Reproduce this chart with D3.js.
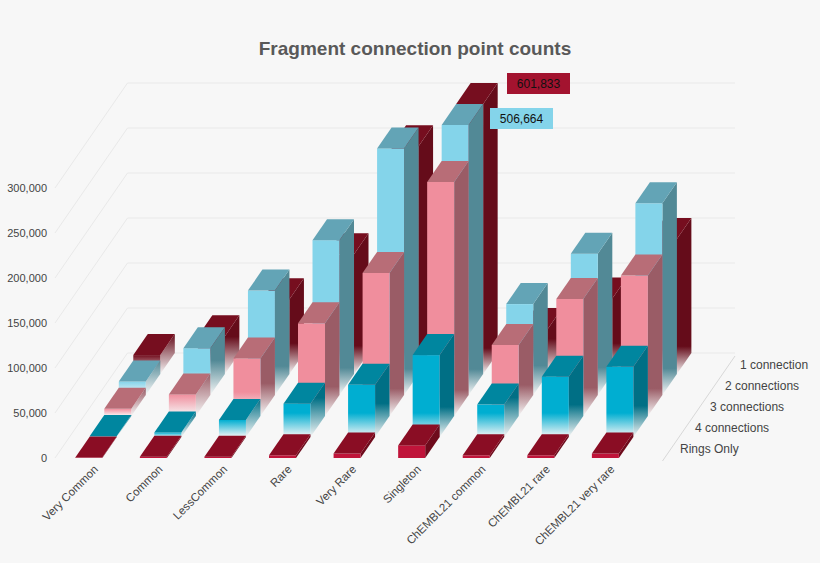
<!DOCTYPE html>
<html>
<head>
<meta charset="utf-8">
<script src="https://cdn.jsdelivr.net/npm/d3@7"></script>
<style>
body { margin: 0; background: #f7f7f7; }
svg { font-family: "Liberation Sans", Arial, sans-serif; }
</style>
</head>
<body>
<div id="chart"></div>
<script>
const categories = ['Very Common', 'Common', 'LessCommon', 'Rare', 'Very Rare', 'Singleton',
    'ChEMBL21 common', 'ChEMBL21 rare', 'ChEMBL21 very rare'];
// front to back
const series = ['Rings Only', '4 connections', '3 connections', '2 connections', '1 connection'];
const ringsOnly = [500, 1500, 1500, 3000, 5000, 14000, 3000, 3000, 5000];
const conn4 = [1000, 5000, 19000, 37000, 58000, 91000, 36000, 67000, 78000];
const conn3 = [8000, 24000, 64000, 103000, 159000, 260000, 79000, 130000, 156000];
const conn2 = [15000, 52000, 116000, 172000, 274000, 506664, 101000, 157000, 213000];
const conn1 = [21000, 42000, 83000, 133000, 253000, 601833, 50000, 84000, 150000];
const yTicks = [0, 50000, 100000, 150000, 200000, 250000, 300000];
const yCap = 300000;

const values = [ringsOnly, conn4, conn3, conn2, conn1];
const colors = [
    { front: '#c0143a', top: '#8a0d24', side: '#6e0b1c', fade: false },
    { front: '#00aed1', top: '#00869f', side: '#006f85', fade: true },
    { front: '#f08e9d', top: '#b86d77', side: '#9a5c66', fade: true },
    { front: '#84d4ea', top: '#63a4b6', side: '#528996', fade: true },
    { front: '#720d1d', top: '#760e1f', side: '#650c1a', fade: true }
];

const W = 820, H = 563;
const dx = 14.5, dy = 21, barW = 27;

const svg = d3.select('#chart').append('svg')
    .attr('width', W).attr('height', H);
const defs = svg.append('defs');

const x = d3.scaleBand().domain(categories).range([43, 650]).paddingInner(0.6).paddingOuter(0.5);
const y = d3.scaleLinear().domain([0, 350000]).range([458, 143]);
const depth = d3.scaleLinear().domain([0, 5]).range([0, 5]);

// back wall and grid
const wallX0 = 55, wallX1 = 735;
yTicks.forEach(t => {
    const yy = y(t);
    svg.append('path')
        .attr('d', `M${wallX0},${yy}L${wallX0 + 5 * dx},${yy - 5 * dy}L${wallX1},${yy - 5 * dy}`)
        .attr('fill', 'none').attr('stroke', '#e9e9e9').attr('stroke-width', 1);
});
svg.append('path')
    .attr('d', `M${wallX1 - 5 * dx},${y(0) + 3}L${wallX1},${y(0) - 5 * dy + 3}`)
    .attr('stroke', '#d8d8d8').attr('fill', 'none');

svg.selectAll('.ytick').data(yTicks).enter().append('text')
    .attr('x', 47).attr('y', d => y(d) + 4)
    .attr('text-anchor', 'end').attr('font-size', 11).attr('fill', '#444')
    .text(d => d3.format(',')(d));

// bars: back rows first
for (let r = series.length - 1; r >= 0; r--) {
    const c = colors[r];
    categories.forEach((cat, i) => {
        const v = Math.min(values[r][i], yCap);
        const ox = depth(r) * dx, oy = depth(r) * dy;
        const x0 = x(cat) + ox, x1 = x0 + barW;
        const yb = y(0) - oy, yt = y(v) - oy;
        const h = yb - yt;
        const g = svg.append('g');
        let frontFill = c.front, sideFill = c.side;
        if (c.fade && h > 0) {
            const stop = Math.max(0, 1 - 24 / h);
            ['f', 's'].forEach(k => {
                const id = `g${r}_${i}_${k}`;
                const lg = defs.append('linearGradient').attr('id', id)
                    .attr('x1', 0).attr('y1', 0).attr('x2', 0).attr('y2', 1);
                const col = k === 'f' ? c.front : c.side;
                lg.append('stop').attr('offset', 0).attr('stop-color', col);
                lg.append('stop').attr('offset', stop).attr('stop-color', col);
                lg.append('stop').attr('offset', 1).attr('stop-color', '#f7f7f7');
                if (k === 'f') frontFill = `url(#${id})`; else sideFill = `url(#${id})`;
            });
        }
        g.append('polygon')
            .attr('points', [[x1, yt], [x1 + dx, yt - dy], [x1 + dx, yb - dy], [x1, yb]].join(' '))
            .attr('fill', sideFill);
        g.append('rect').attr('x', x0).attr('y', yt).attr('width', barW).attr('height', h)
            .attr('fill', frontFill);
        g.append('polygon')
            .attr('points', [[x0, yt], [x1, yt], [x1 + dx, yt - dy], [x0 + dx, yt - dy]].join(' '))
            .attr('fill', c.top);
    });
}

// value labels for clipped bars
const labels = [
    { row: 4, cat: 'Singleton', fill: '#a3132f', lx: 507, ly: 73 },
    { row: 3, cat: 'Singleton', fill: '#84d4ea', lx: 490, ly: 108 }
];
labels.forEach(l => {
    const i = categories.indexOf(l.cat);
    svg.append('rect').attr('x', l.lx).attr('y', l.ly).attr('width', 63).attr('height', 21)
        .attr('fill', l.fill);
    svg.append('text').attr('x', l.lx + 31.5).attr('y', l.ly + 15)
        .attr('text-anchor', 'middle').attr('font-size', 12).attr('fill', '#111')
        .text(d3.format(',')(values[l.row][i]));
});

// category labels
svg.selectAll('.xlab').data(categories).enter().append('text')
    .attr('transform', d => `translate(${x(d) + barW / 2 + 10},${470}) rotate(-45)`)
    .attr('text-anchor', 'end').attr('font-size', 11.5).attr('fill', '#444')
    .text(d => d);

// series labels along depth axis
svg.selectAll('.slab').data(series).enter().append('text')
    .attr('x', (d, i) => 680 + depth(i) * 15)
    .attr('y', (d, i) => 453 - depth(i) * 21)
    .attr('font-size', 12).attr('fill', '#444')
    .text(d => d);

svg.append('text').attr('x', 415).attr('y', 55).attr('text-anchor', 'middle')
    .attr('font-size', 19).attr('font-weight', 'bold').attr('fill', '#595959')
    .text('Fragment connection point counts');
</script>
</body>
</html>
